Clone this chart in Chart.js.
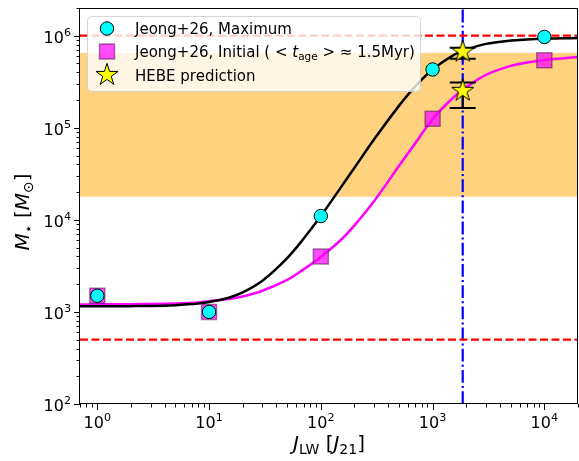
<!DOCTYPE html>
<html>
<head>
<meta charset="utf-8">
<script src="https://cdn.jsdelivr.net/npm/chart.js@4.4.1/dist/chart.umd.min.js"></script>
<style>
  body { margin: 0; background: #fff; }
  canvas { display: block; }
</style>
</head>
<body>
<canvas id="chart" width="579" height="461"></canvas>
<script>
// fitted curves
const jGrid   = [0.7, 1, 1.5, 2, 3, 5, 7, 10, 15, 20, 30, 50, 70, 100, 150, 200, 300, 500, 700, 1000, 1500, 2000, 3000, 5000, 7000, 10000, 15000, 20000];
const fitMax  = [1150, 1152, 1154, 1156, 1163, 1185, 1216, 1279, 1428, 1628, 2180, 3850, 6230, 11000, 22250, 36800, 75000, 173000, 282000, 430000, 605000, 705000, 815000, 885000, 908000, 925000, 937000, 945000];
const fitInit = [1205, 1210, 1212, 1215, 1220, 1235, 1255, 1310, 1380, 1470, 1700, 2230, 2900, 3960, 6000, 8700, 16000, 38500, 68000, 124000, 208000, 275000, 375000, 470000, 512000, 545000, 570000, 587000];

// Jeong+26 simulation points
const markJ    = [1, 10, 100, 1000, 10000];
const maxMass  = [1500, 1000, 11000, 430000, 970000];
const initMass = [1500, 1000, 4000, 125000, 540000];

// HEBE prediction with error bars
const hebeJ    = [1860, 1860];
const hebeMass = [670000, 252000];
const hebeLow  = [562000, 164000];
const hebeHigh = [740000, 310000];

const bandRange  = [17800, 650000];
const limitLines = [1e6, 500];
const jObserved  = 1860;

const xRange = [0.7, 2e4];
const yRange = [100, 2e6];
const xTickExp = [0, 1, 2, 3, 4];
const yTickExp = [2, 3, 4, 5, 6];

const FONT = 'DejaVu Sans';

function pts(xs, ys) {
    return xs.map((x, i) => ({ x: x, y: ys[i] }));
}

function makeStar(R) {
    const c = document.createElement('canvas');
    const s = Math.ceil(R * 2 + 4);
    c.width = s;
    c.height = s;
    const g = c.getContext('2d');
    g.beginPath();
    for (let i = 0; i < 10; i++) {
        const r = i % 2 ? R * 0.382 : R;
        const a = -Math.PI / 2 + i * Math.PI / 5;
        g.lineTo(s / 2 + r * Math.cos(a), s / 2 + r * Math.sin(a));
    }
    g.closePath();
    g.fillStyle = '#ffff00';
    g.fill();
    g.lineWidth = 1;
    g.strokeStyle = '#000';
    g.stroke();
    return c;
}
const starImg = makeStar(11.6);

function fontOf(p, size) {
    const s = (p.sub || p.sup) ? size * 0.7 : size;
    return (p.it ? 'italic ' : '') + s + 'px "' + FONT + '"';
}

function drawRich(ctx, parts, x, y, size, align) {
    let w = 0;
    parts.forEach(p => { ctx.font = fontOf(p, size); w += ctx.measureText(p.t).width; });
    let cx = align === 'right' ? x - w : align === 'center' ? x - w / 2 : x;
    ctx.textAlign = 'left';
    ctx.textBaseline = 'alphabetic';
    parts.forEach(p => {
        ctx.font = fontOf(p, size);
        const dy = p.sub ? size * 0.22 : p.sup ? -size * 0.42 : 0;
        ctx.fillText(p.t, cx, y + dy);
        cx += ctx.measureText(p.t).width;
    });
}

function minorTicks(lo, hi) {
    const out = [];
    for (let d = Math.floor(Math.log10(lo)); d <= Math.ceil(Math.log10(hi)); d++) {
        for (let m = 2; m <= 9; m++) {
            const v = m * Math.pow(10, d);
            if (v >= lo && v <= hi) out.push(v);
        }
    }
    return out;
}

const legendRows = [
    { marker: 'circle', parts: [{ t: 'Jeong+26, Maximum' }] },
    { marker: 'rect', parts: [{ t: 'Jeong+26, Initial ( < ' }, { t: 't', it: true }, { t: 'age', sub: true }, { t: ' > \u2248 1.5Myr)' }] },
    { marker: 'star', parts: [{ t: 'HEBE prediction' }] }
];

const decor = {
    id: 'decor',
    beforeDatasetsDraw(chart) {
        const { ctx, chartArea: a, scales: { y } } = chart;
        const top = y.getPixelForValue(bandRange[1]);
        const bot = y.getPixelForValue(bandRange[0]);
        ctx.save();
        ctx.fillStyle = 'rgba(255,165,0,0.5)';
        ctx.fillRect(a.left, top, a.right - a.left, bot - top);
        ctx.restore();
    },
    beforeDatasetDraw(chart, args) {
        if (args.index !== 0) return;
        const { ctx, scales: { x, y } } = chart;
        ctx.save();
        ctx.strokeStyle = '#000';
        ctx.lineWidth = 2;
        hebeJ.forEach((j, i) => {
            const px = x.getPixelForValue(j);
            const lo = y.getPixelForValue(hebeLow[i]);
            const hi = y.getPixelForValue(hebeHigh[i]);
            ctx.beginPath();
            ctx.moveTo(px, lo); ctx.lineTo(px, hi);
            ctx.moveTo(px - 13, lo); ctx.lineTo(px + 13, lo);
            ctx.moveTo(px - 13, hi); ctx.lineTo(px + 13, hi);
            ctx.stroke();
        });
        ctx.restore();
    },
    afterDraw(chart) {
        const { ctx, chartArea: a, scales: { x, y } } = chart;
        ctx.save();
        ctx.strokeStyle = '#000';
        ctx.fillStyle = '#000';
        ctx.lineWidth = 1;
        ctx.strokeRect(a.left - 0.5, a.top + 0.5, a.right - a.left, a.bottom - a.top - 1);

        // ticks
        ctx.beginPath();
        xTickExp.forEach(k => {
            const px = Math.round(x.getPixelForValue(Math.pow(10, k))) + 0.5;
            ctx.moveTo(px, a.bottom); ctx.lineTo(px, a.bottom + 6);
        });
        minorTicks(xRange[0], xRange[1]).forEach(v => {
            const px = Math.round(x.getPixelForValue(v)) + 0.5;
            ctx.moveTo(px, a.bottom); ctx.lineTo(px, a.bottom + 3.5);
        });
        yTickExp.forEach(k => {
            const py = Math.round(y.getPixelForValue(Math.pow(10, k))) + 0.5;
            ctx.moveTo(a.left, py); ctx.lineTo(a.left - 6, py);
        });
        minorTicks(yRange[0], yRange[1]).forEach(v => {
            const py = Math.round(y.getPixelForValue(v)) + 0.5;
            ctx.moveTo(a.left, py); ctx.lineTo(a.left - 3.5, py);
        });
        ctx.stroke();

        // tick labels
        xTickExp.forEach(k => {
            drawRich(ctx, [{ t: '10' }, { t: String(k), sup: true }], x.getPixelForValue(Math.pow(10, k)), a.bottom + 24, 16, 'center');
        });
        yTickExp.forEach(k => {
            drawRich(ctx, [{ t: '10' }, { t: String(k), sup: true }], a.left - 9, y.getPixelForValue(Math.pow(10, k)) + 7, 16, 'right');
        });

        // axis titles
        drawRich(ctx, [{ t: 'J', it: true }, { t: 'LW', sub: true }, { t: ' [' }, { t: 'J', it: true }, { t: '21', sub: true }, { t: ']' }],
            (a.left + a.right) / 2, 450, 20, 'center');
        ctx.save();
        ctx.translate(29, (a.top + a.bottom) / 2 + 6);
        ctx.rotate(-Math.PI / 2);
        drawRich(ctx, [{ t: 'M', it: true }, { t: '\u22c6', sub: true }, { t: ' [' }, { t: 'M', it: true }, { t: '\u2299', sub: true }, { t: ']' }],
            0, 0, 20, 'center');
        ctx.restore();

        // legend
        const lx = 87, ly = 16, lw = 333, lh = 75;
        ctx.beginPath();
        ctx.roundRect(lx + 0.5, ly + 0.5, lw, lh, 4);
        ctx.fillStyle = 'rgba(255,255,255,0.8)';
        ctx.fill();
        ctx.strokeStyle = 'rgba(204,204,204,0.8)';
        ctx.stroke();
        const rowY = [28.5, 51.5, 75];
        legendRows.forEach((row, i) => {
            const my = rowY[i], mx = 107;
            if (row.marker === 'circle') {
                ctx.beginPath();
                ctx.arc(mx, my, 6.7, 0, Math.PI * 2);
                ctx.fillStyle = '#00ffff';
                ctx.fill();
                ctx.strokeStyle = '#000';
                ctx.lineWidth = 1;
                ctx.stroke();
            } else if (row.marker === 'rect') {
                ctx.fillStyle = 'rgba(255,0,255,0.7)';
                ctx.fillRect(mx - 7.5, my - 7.5, 15, 15);
                ctx.strokeStyle = 'rgba(90,20,90,0.55)';
                ctx.lineWidth = 1.5;
                ctx.strokeRect(mx - 7.5, my - 7.5, 15, 15);
            } else {
                ctx.drawImage(starImg, mx - starImg.width / 2, my - starImg.height / 2);
            }
            ctx.fillStyle = '#000';
            drawRich(ctx, row.parts, 135, my + 5.5, 15, 'left');
        });
        ctx.restore();
    }
};

new Chart(document.getElementById('chart'), {
    type: 'scatter',
    data: {
        datasets: [
            {
                data: pts(hebeJ, hebeMass),
                pointStyle: starImg,
                pointRadius: 12,
                order: 0
            },
            {
                data: pts(markJ, maxMass),
                pointStyle: 'circle',
                pointRadius: 6.7,
                backgroundColor: '#00ffff',
                borderColor: '#000',
                borderWidth: 1,
                order: 1
            },
            {
                data: pts(markJ, initMass),
                pointStyle: 'rect',
                pointRadius: 10.6,
                backgroundColor: 'rgba(255,0,255,0.7)',
                borderColor: 'rgba(90,20,90,0.55)',
                borderWidth: 1.5,
                order: 2
            },
            {
                type: 'line',
                data: pts(jGrid, fitMax),
                borderColor: '#000',
                borderWidth: 2.5,
                pointRadius: 0,
                tension: 0.35,
                order: 3
            },
            {
                type: 'line',
                data: pts(jGrid, fitInit),
                borderColor: '#ff00ff',
                borderWidth: 2.5,
                pointRadius: 0,
                tension: 0.35,
                order: 4
            },
            {
                type: 'line',
                data: pts(xRange, [limitLines[0], limitLines[0]]),
                borderColor: '#ff0000',
                borderWidth: 2.2,
                borderDash: [8, 3.5],
                pointRadius: 0,
                order: 5
            },
            {
                type: 'line',
                data: pts(xRange, [limitLines[1], limitLines[1]]),
                borderColor: '#ff0000',
                borderWidth: 2.2,
                borderDash: [8, 3.5],
                pointRadius: 0,
                order: 5
            },
            {
                type: 'line',
                data: pts([jObserved, jObserved], yRange),
                borderColor: '#0000ff',
                borderWidth: 2.2,
                borderDash: [12.8, 3.2, 2, 3.2],
                pointRadius: 0,
                order: 6
            }
        ]
    },
    options: {
        responsive: false,
        devicePixelRatio: 1,
        animation: false,
        layout: { autoPadding: false, padding: { top: 8, right: 1, left: 0, bottom: 0 } },
        plugins: { legend: { display: false }, tooltip: { enabled: false } },
        scales: {
            x: {
                type: 'logarithmic',
                min: xRange[0],
                max: xRange[1],
                ticks: { display: false },
                grid: { display: false },
                border: { display: false },
                afterFit: s => { s.height = 57; }
            },
            y: {
                type: 'logarithmic',
                min: yRange[0],
                max: yRange[1],
                ticks: { display: false },
                grid: { display: false },
                border: { display: false },
                afterFit: s => { s.width = 80; }
            }
        }
    },
    plugins: [decor]
});
</script>
</body>
</html>
